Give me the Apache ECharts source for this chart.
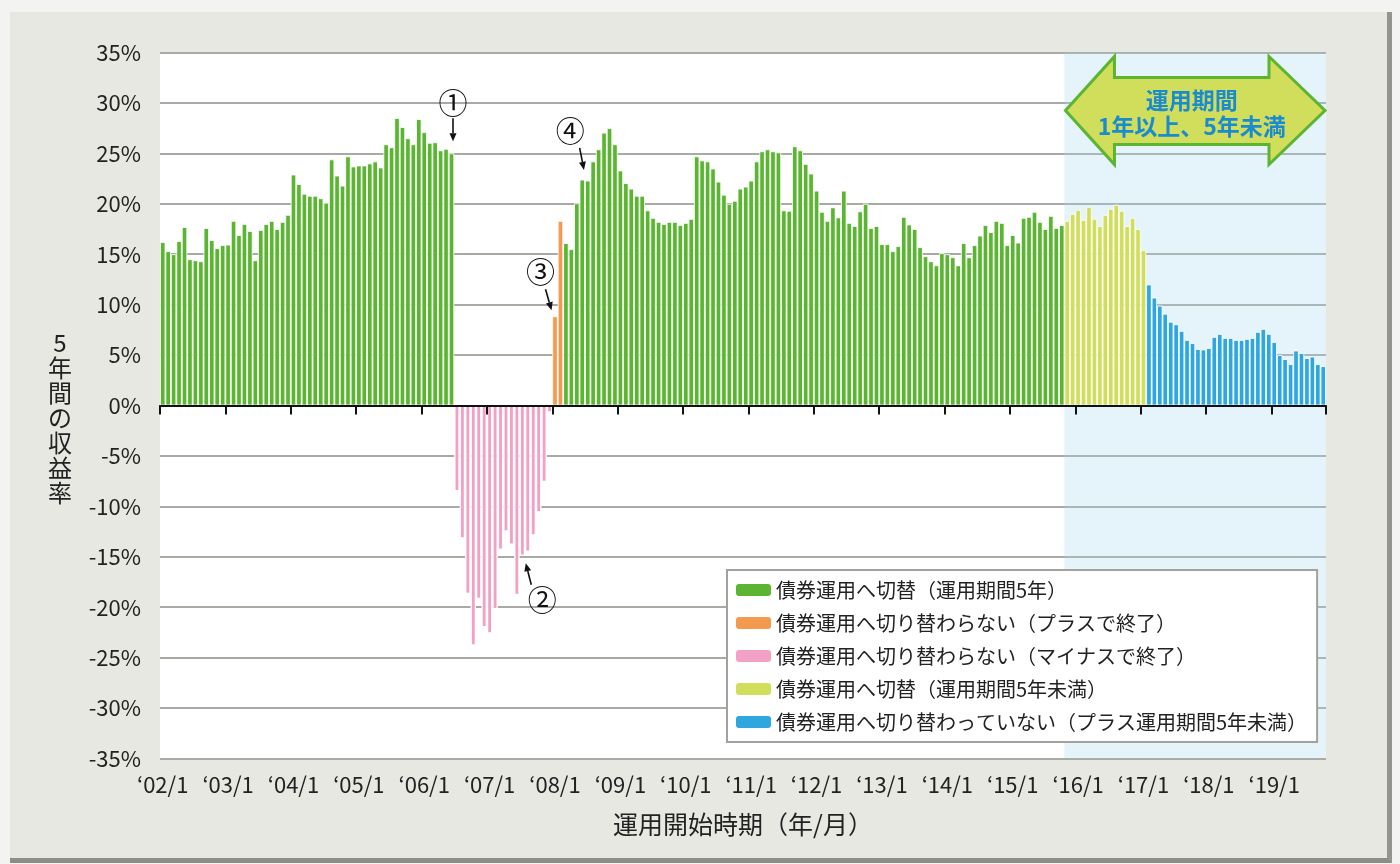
<!DOCTYPE html>
<html>
<head>
<meta charset="utf-8">
<script src="https://cdn.jsdelivr.net/npm/echarts/dist/echarts.min.js"></script>
<style>
  html, body { margin: 0; padding: 0; background: #f3f3f1; }
  #frame { position: absolute; left: 10px; top: 12px; width: 1377px; height: 846px; background: #e8e8e3;
           border-right: 5px solid #95958f; border-bottom: 5px solid #8d8d88; }
  #main { position: absolute; left: 0; top: 0; width: 1400px; height: 864px; }
</style>
</head>
<body>
<div id="frame"></div>
<div id="main"></div>
<script>
// 月次カテゴリ '02/1 〜 '19/10
const startYear = 2002;
const monthCount = 214;
const categories = [];
for (let i = 0; i < monthCount; i++) {
  const y = startYear + Math.floor(i / 12);
  categories.push('‘' + String(y).slice(2) + '/' + (i % 12 + 1));
}

// 債券運用へ切替（運用期間5年） 02/1〜06/6
const switchedA = [16.2, 15.3, 15.0, 16.3, 17.7, 14.5, 14.4, 14.3, 17.6, 16.4, 15.6, 15.9,
  15.95, 18.3, 16.9, 18.0, 17.3, 14.4, 17.4, 18.0, 18.3, 17.5, 18.2, 18.9,
  22.9, 21.96, 21.0, 20.8, 20.8, 20.55, 20.1, 24.4, 22.8, 21.8, 24.7, 23.7,
  23.8, 23.8, 24.0, 24.2, 23.6, 25.9, 25.6, 28.5, 27.6, 26.5, 25.9, 28.4,
  27.1, 26.05, 26.1, 25.3, 25.45, 25.0];
// 切り替わらない（マイナスで終了） 06/7〜07/12
const minusEnd = [-8.5, -13.2, -18.7, -23.8, -19.2, -22.0,
  -22.6, -20.2, -14.3, -12.5, -13.8, -18.8, -14.9, -14.5, -12.9, -10.6, -7.6, -0.7];
// 切り替わらない（プラスで終了） 08/1〜08/2
const plusEnd = [8.85, 18.3];
// 債券運用へ切替（運用期間5年） 08/3〜15/10
const switchedB = [16.1, 15.5, 20.05, 22.4, 22.3, 24.2, 25.4, 27.05, 27.5, 25.9,
  23.3, 22.05, 21.5, 20.8, 20.8, 19.35, 18.6, 18.2, 18.0, 18.2, 18.2, 17.9,
  18.1, 18.5, 24.7, 24.3, 24.2, 23.5, 22.2, 20.9, 20.0, 20.3, 21.5, 21.7,
  22.3, 24.2, 25.2, 25.4, 25.2, 25.1, 19.35, 19.3, 25.7, 25.3, 23.95, 23.0,
  21.3, 19.2, 18.3, 19.65, 18.65, 21.3, 18.1, 17.8, 19.25, 20.0, 17.6, 17.8,
  16.0, 16.0, 15.3, 15.8, 18.7, 17.95, 17.5, 15.7, 14.8, 14.3, 13.9, 15.1,
  15.0, 14.7, 13.9, 16.1, 14.7, 15.9, 16.85, 17.9, 17.2, 18.3, 18.1, 15.9,
  16.9, 16.15, 18.6, 18.7, 19.2, 18.2, 17.5, 18.8, 17.6, 17.9];
// 債券運用へ切替（運用期間5年未満） 15/11〜17/1
const switchedShort = [18.3, 19.0, 19.4, 18.4, 19.7, 18.5, 17.8, 18.9, 19.5, 19.9, 19.3, 17.8, 18.6, 17.5, 15.4];
// 切り替わっていない（プラス運用期間5年未満） 17/2〜19/10
const notSwitched = [12.0, 10.7, 9.9, 9.1, 8.3, 8.05, 7.4, 6.5, 6.2, 5.6, 5.55,
  5.7, 6.8, 7.1, 6.7, 6.7, 6.5, 6.5, 6.6, 6.7, 7.3, 7.6, 7.1,
  6.3, 5.0, 4.6, 4.1, 5.45, 5.2, 4.7, 4.85, 4.1, 3.9];

const seriesNames = [
  '債券運用へ切替（運用期間5年）',
  '債券運用へ切り替わらない（プラスで終了）',
  '債券運用へ切り替わらない（マイナスで終了）',
  '債券運用へ切替（運用期間5年未満）',
  '債券運用へ切り替わっていない（プラス運用期間5年未満）'
];
const colors = ['#5cb532', '#f39a4e', '#f3a0c5', '#d0de5b', '#2fa6df'];

function place(parts) {
  const arr = new Array(monthCount).fill(null);
  parts.forEach(([start, vals]) => vals.forEach((v, i) => { arr[start + i] = v; }));
  return arr;
}
const shortStart = switchedA.length + minusEnd.length + plusEnd.length + switchedB.length;
const seriesData = [
  place([[0, switchedA], [switchedA.length + minusEnd.length + plusEnd.length, switchedB]]),
  place([[switchedA.length + minusEnd.length, plusEnd]]),
  place([[switchedA.length, minusEnd]]),
  place([[shortStart, switchedShort]]),
  place([[shortStart + switchedShort.length, notSwitched]])
];

const font = '"Noto Sans CJK JP", "Noto Sans", sans-serif';
const chart = echarts.init(document.getElementById('main'));

const option = {
  animation: false,
  textStyle: { fontFamily: font },
  grid: { left: 160, right: 74, top: 52.5, bottom: 105.5, show: true, backgroundColor: '#fff', borderWidth: 0 },
  legend: {
    orient: 'vertical', left: 727, top: 570,
    data: seriesNames,
    backgroundColor: '#fff', borderColor: '#a2a29d', borderWidth: 2,
    padding: [9, 10, 9, 9], itemGap: 11, itemWidth: 35, itemHeight: 12,
    itemStyle: { borderWidth: 0 },
    textStyle: { fontSize: 20, color: '#222', lineHeight: 22, fontFamily: font }
  },
  xAxis: [{
    type: 'category', data: categories,
    axisLine: { onZero: true, lineStyle: { color: '#111', width: 2 } },
    axisTick: { show: true, inside: false, interval: 11, length: 9, lineStyle: { color: '#111', width: 2 } },
    axisLabel: { show: false },
    splitLine: { show: false },
    z: 10
  }, {
    type: 'category', data: categories, position: 'bottom',
    axisLine: { show: false, onZero: false },
    axisTick: { show: false },
    axisLabel: { interval: 11, fontSize: 22, color: '#222', margin: 15 },
    name: '運用開始時期（年/月）', nameLocation: 'middle', nameGap: 53,
    nameTextStyle: { fontSize: 25, color: '#222' }
  }],
  yAxis: {
    type: 'value', min: -35, max: 35, interval: 5,
    axisLabel: { formatter: '{value}%', fontSize: 22, color: '#222', margin: 19 },
    axisLine: { show: false }, axisTick: { show: false },
    splitLine: { lineStyle: { color: '#a9aaa3', width: 2 } },
    name: '\n5\n年\n間\nの\n収\n益\n率', nameLocation: 'middle', nameRotate: 0, nameGap: 100,
    nameTextStyle: { fontSize: 24, lineHeight: 25, color: '#222', align: 'center' }
  },
  series: seriesNames.map((name, k) => ({
    name: name, type: 'bar', data: seriesData[k],
    barGap: '-100%', barCategoryGap: '0%',
    itemStyle: { color: colors[k], borderColor: '#fff', borderWidth: k === 2 ? 1.3 : 0.85 }
  }))
};
chart.setOption(option);

// 注記（①〜④）: 棒の先端を基準に配置
const notes = [
  { mark: '①', idx: 53, value: switchedA[53], label: [1.5, -50], from: [1.5, -35], to: [1.5, -12] },
  { mark: '②', idx: 67, value: minusEnd[13], label: [14.5, 48], from: [3.5, 33], to: [-2, 11.5] },
  { mark: '③', idx: 72, value: plusEnd[0], label: [-14.5, -44], from: [-9.5, -27], to: [-3.5, -6] },
  { mark: '④', idx: 77, value: switchedB[3], label: [-12, -49], from: [-2.6, -31.7], to: [1.7, -9.7] }
];
const toPx = (i, v) => chart.convertToPixel({ xAxisIndex: 0, yAxisIndex: 0 }, [i, v]);
const graphics = [];

// 運用期間5年未満の背景
const band = toPx(1, 0)[0] - toPx(0, 0)[0];
const xl = toPx(shortStart, 0)[0] - band / 2;
const xr = toPx(monthCount - 1, 0)[0] + band / 2;
const yt = toPx(0, 35)[1];
const yb = toPx(0, -35)[1];
graphics.push({
  type: 'rect', z: 1, silent: true,
  shape: { x: xl, y: yt, width: xr - xl, height: yb - yt },
  style: { fill: 'rgba(170,215,240,0.3)' }
});

notes.forEach(n => {
  const p = toPx(n.idx, n.value);
  const x1 = p[0] + n.from[0], y1 = p[1] + n.from[1];
  const x2 = p[0] + n.to[0], y2 = p[1] + n.to[1];
  const ang = Math.atan2(y2 - y1, x2 - x1);
  const hl = 8, hw = 3.5;
  const bx = x2 - hl * Math.cos(ang), by = y2 - hl * Math.sin(ang);
  graphics.push({
    type: 'text', x: p[0] + n.label[0], y: p[1] + n.label[1], z: 50,
    style: { text: n.mark, fontSize: 29, fill: '#111', align: 'center', verticalAlign: 'middle', fontFamily: font }
  });
  graphics.push({
    type: 'line', z: 50, shape: { x1: x1, y1: y1, x2: bx, y2: by },
    style: { stroke: '#111', lineWidth: 1.6 }
  });
  graphics.push({
    type: 'polygon', z: 50,
    shape: { points: [[x2, y2],
      [bx + hw * Math.sin(ang), by - hw * Math.cos(ang)],
      [bx - hw * Math.sin(ang), by + hw * Math.cos(ang)]] },
    style: { fill: '#111' }
  });
});

// 運用期間 1年以上、5年未満 の両矢印
graphics.push({
  type: 'polygon', z: 40,
  shape: { points: [[xl + 1, yt + 58], [xl + 50, yt + 4], [xl + 50, yt + 25], [xr - 57, yt + 25],
    [xr - 57, yt + 4], [xr - 1, yt + 58], [xr - 57, yt + 112], [xr - 57, yt + 92],
    [xl + 50, yt + 92], [xl + 50, yt + 112]] },
  style: { fill: '#d0de5b', stroke: '#5cb532', lineWidth: 3 }
});
const cx = (xl + 50 + xr - 57) / 2;
graphics.push({
  type: 'text', x: cx, y: yt + 48, z: 45,
  style: { text: '運用期間', fontSize: 23, fontWeight: 'bold', fill: '#1b8bd0', align: 'center', verticalAlign: 'middle', fontFamily: font }
});
graphics.push({
  type: 'text', x: cx, y: yt + 74, z: 45,
  style: { text: '1年以上、5年未満', fontSize: 23, fontWeight: 'bold', fill: '#1b8bd0', align: 'center', verticalAlign: 'middle', fontFamily: font }
});
chart.setOption({ graphic: graphics });
</script>
</body>
</html>
